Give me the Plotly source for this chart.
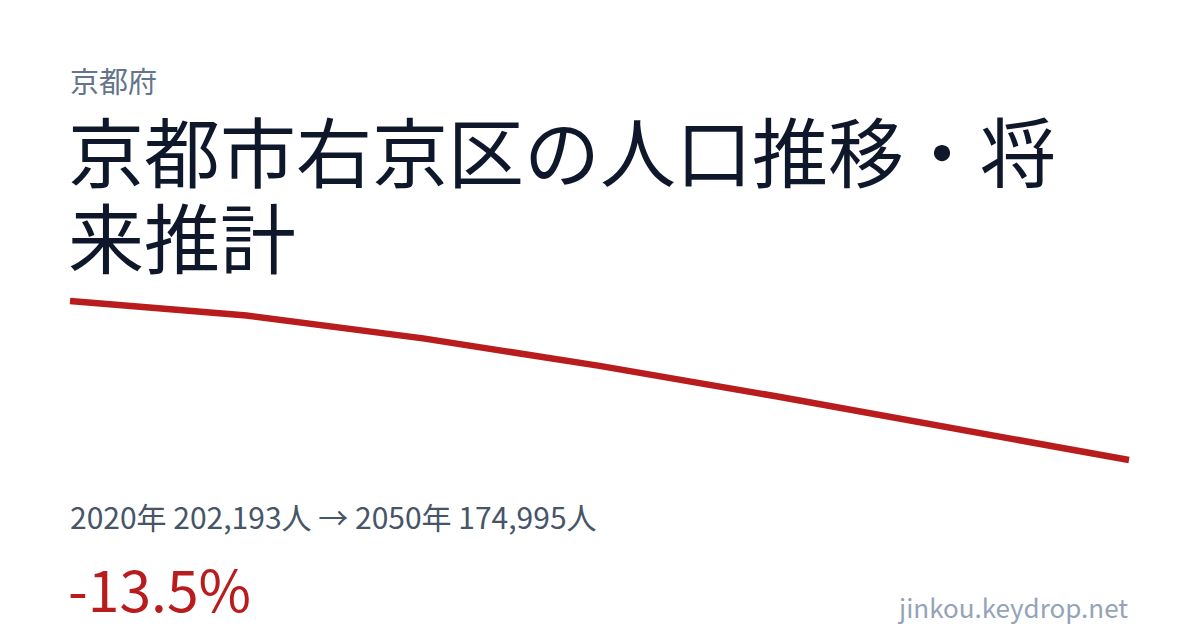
import plotly.graph_objects as go

# ---- data ----
years = [2020, 2025, 2030, 2035, 2040, 2045, 2050]
population = [202193, 199700, 195800, 191100, 185900, 180500, 174995]

prefecture = "京都府"
title_line1 = "京都市右京区の人口推移・将"
title_line2 = "来推計"
summary = "2020年 202,193人 → 2050年 174,995人"
change = "-13.5%"
site = "jinkou.keydrop.net"

# ---- layout geometry (page body has an 8px margin) ----
OFF = 8
W, H = 1200 - OFF, 630 - OFF
L, R, T, B = 52, 52, 272, 142
pw, ph = W - L - R, H - T - B

# map first/last points to target pixel positions (screen coords)
x0_px, x1_px = 70 - OFF, 1129 - OFF
y0_px, y1_px = 301 - OFF, 460 - OFF
xs = (years[-1] - years[0]) / (x1_px - x0_px)
xmin = years[0] - (x0_px - L) * xs
xmax = years[-1] + ((W - R) - x1_px) * xs
ys = (population[0] - population[-1]) / (y1_px - y0_px)
ymax = population[0] + (y0_px - T) * ys
ymin = population[-1] - ((H - B) - y1_px) * ys


def px(x):
    return (x - OFF - L) / pw


def py(y):
    return (H - B - (y - OFF)) / ph


FONT = "Noto Sans CJK JP"
fig = go.Figure()
fig.add_trace(go.Scatter(x=years, y=population, mode="lines",
                         line=dict(color="#b91c1c", width=6.5),
                         hoverinfo="skip"))

ann = []
def add(text, x, y, size, color, xanchor="left"):
    ann.append(dict(text=text, x=px(x), y=py(y), xref="paper", yref="paper",
                    xanchor=xanchor, yanchor="middle", showarrow=False,
                    font=dict(family=FONT, size=size, color=color)))

add(prefecture, 68, 80, 29, "#64748b")
add(title_line1, 66, 149, 76, "#0f172a")
add(title_line2, 66, 235, 76, "#0f172a")
add(summary, 68, 516, 30, "#475569")
add(change, 66, 587, 57, "#b91c1c")
add(site, 1130, 606, 26, "#94a3b8", xanchor="right")

fig.update_layout(
    width=W, height=H,
    margin=dict(l=L, r=R, t=T, b=B),
    paper_bgcolor="white", plot_bgcolor="white",
    showlegend=False,
    xaxis=dict(range=[xmin, xmax], visible=False, fixedrange=True),
    yaxis=dict(range=[ymin, ymax], visible=False, fixedrange=True),
    annotations=ann,
)
fig.write_html("out.html", config={"displayModeBar": False})
